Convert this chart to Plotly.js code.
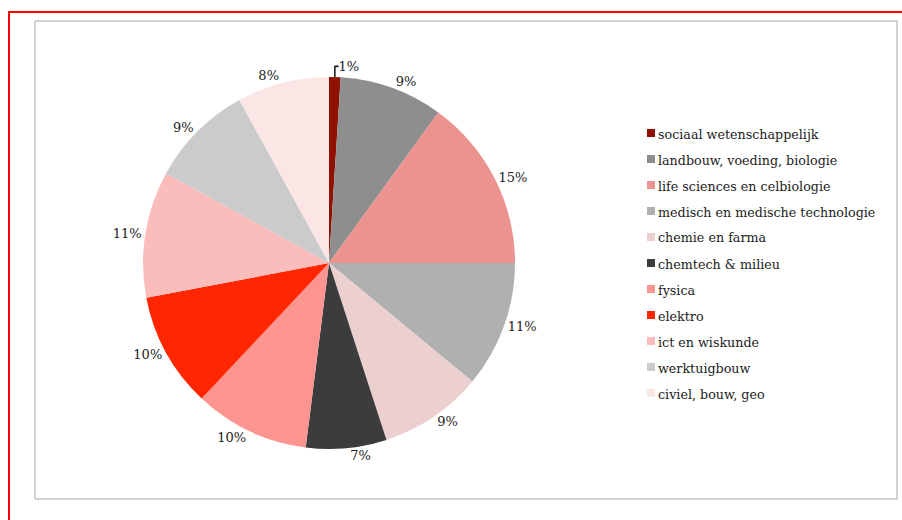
<!DOCTYPE html>
<html>
<head>
<meta charset="utf-8">
<script src="https://cdn.plot.ly/plotly-3.0.1.min.js"></script>
<style>html,body{margin:0;padding:0;background:#fff;}#chart{width:902px;height:520px;}</style>
</head>
<body>
<div id="chart"></div>
<script>
const categories = [
  "sociaal wetenschappelijk",
  "landbouw, voeding, biologie",
  "life sciences en celbiologie",
  "medisch en medische technologie",
  "chemie en farma",
  "chemtech & milieu",
  "fysica",
  "elektro",
  "ict en wiskunde",
  "werktuigbouw",
  "civiel, bouw, geo"
];
const shares = [1, 9, 15, 11, 9, 7, 10, 10, 11, 9, 8];
const sliceColors = [
  "#8f1200", "#8e8e8e", "#ec938f", "#b0b0b0", "#ecd0d0", "#3c3c3c",
  "#fc948f", "#ff2600", "#fabdbc", "#cbcbcb", "#fce6e5"
];

const W = 902, H = 520;
const px = v => v / W, py = v => 1 - v / H;
const FONT = "DejaVu Serif, Liberation Serif, serif";

const shapes = [
  {type:"rect", xref:"paper", yref:"paper", x0:px(35), x1:px(897), y0:py(21), y1:py(499),
   line:{color:"#a8a8a8", width:1}, fillcolor:"rgba(0,0,0,0)"},
  {type:"line", xref:"paper", yref:"paper", x0:px(8), x1:px(902), y0:py(12), y1:py(12),
   line:{color:"#ff0000", width:2}},
  {type:"line", xref:"paper", yref:"paper", x0:px(9), x1:px(9), y0:py(12), y1:py(520),
   line:{color:"#ff0000", width:2}}
];
const annotations = [];
const legTop = 133, legGap = 26;
categories.forEach((c, i) => {
  const cy = legTop + i * legGap;
  shapes.push({type:"rect", xref:"paper", yref:"paper",
    x0:px(647), x1:px(655), y0:py(cy - 4), y1:py(cy + 4),
    line:{width:0}, fillcolor:sliceColors[i]});
  annotations.push({xref:"paper", yref:"paper", x:px(656), y:py(cy + 1),
    xanchor:"left", yanchor:"middle", showarrow:false, text:c,
    font:{family:FONT, size:12.7, color:"#222"}});
});

const data = [{
  type:"pie",
  labels:categories,
  values:shares,
  sort:false,
  direction:"clockwise",
  rotation:0,
  marker:{colors:sliceColors, line:{width:0}},
  textposition:"outside",
  texttemplate:"%{percent:.0%}",
  textfont:{family:FONT, size:13, color:"#222"},
  hoverinfo:"label+percent",
  showlegend:false,
  domain:{x:[px(143), px(515)], y:[1 - 449/H, 1 - 77/H]}
}];

const layout = {
  width:W, height:H,
  margin:{l:0, r:0, t:0, b:0},
  paper_bgcolor:"#ffffff",
  showlegend:false,
  shapes:shapes,
  annotations:annotations
};
Plotly.newPlot("chart", data, layout, {displayModeBar:false, staticPlot:true});
</script>
</body>
</html>
